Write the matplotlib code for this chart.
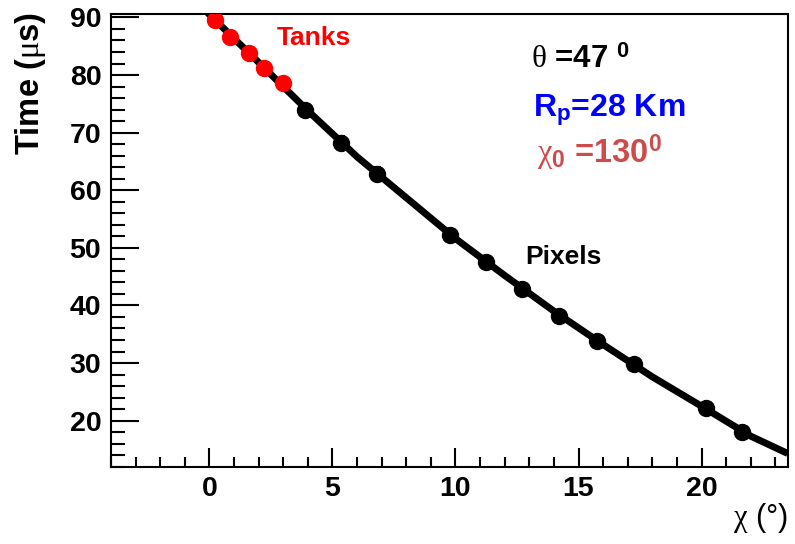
import matplotlib
matplotlib.use('Agg')
import matplotlib.pyplot as plt
from matplotlib.ticker import MultipleLocator

"""Arrival time vs. viewing angle: tank and pixel times with the geometry fit"""

plt.rcParams['font.family'] = ['Liberation Sans', 'DejaVu Sans']
plt.rcParams['font.weight'] = 'bold'
plt.rcParams['mathtext.fontset'] = 'custom'
plt.rcParams['mathtext.rm'] = 'Liberation Sans:weight=bold'
plt.rcParams['mathtext.bf'] = 'Liberation Sans:weight=bold'
plt.rcParams['mathtext.it'] = 'Liberation Serif:weight=normal'
plt.rcParams['mathtext.sf'] = 'Liberation Serif:weight=normal'  # greek letters (symbol font look)

# surface detector tanks
tank_chi = [0.23, 0.85, 1.6, 2.23, 3.0]
tank_t = [89.5, 86.6, 83.8, 81.3, 78.7]

# fluorescence detector pixels
pix_chi = [3.89, 5.35, 6.83, 9.77, 11.25, 12.72, 14.21, 15.74, 17.24, 20.2, 21.65]
pix_t = [74.0, 68.2, 62.75, 52.3, 47.6, 42.8, 38.1, 33.9, 29.8, 22.2, 18.0]
pix_err = [0.8, 1.3, 1.2, 0.6, 0.6, 0.6, 0.6, 0.6, 0.6, 0.6, 0.6]

# fitted curve
fit_chi = [-0.5, 0, 2, 4, 6, 8, 10, 12, 14, 16, 18, 20, 22, 23.5]
fit_t = [92.8, 90.5, 82.2, 73.8, 65.8, 58.7, 51.6, 45.2, 39.0, 33.2, 27.6, 22.5, 17.3, 14.3]

fig = plt.figure(figsize=(7.95, 5.44), dpi=100)
ax = fig.add_axes([0.1396, 0.1421, 0.8512, 0.8322])

ax.plot(fit_chi, fit_t, color='black', lw=5, solid_capstyle='butt', zorder=2)
ax.errorbar(pix_chi, pix_t, yerr=pix_err, fmt='o', color='black', ms=11.5,
            elinewidth=1.5, capsize=3, capthick=1.5, zorder=3)
ax.plot(tank_chi, tank_t, 'o', color='#ff0000', ms=11.5, mec='#ff0000', zorder=4)

ax.set_xlim(-4, 23.5)
ax.set_ylim(12, 90.6)
ax.xaxis.set_major_locator(MultipleLocator(5))
ax.xaxis.set_minor_locator(MultipleLocator(1))
ax.yaxis.set_major_locator(MultipleLocator(10))
ax.yaxis.set_minor_locator(MultipleLocator(2))
ax.tick_params(which='both', direction='in', top=False, right=False, width=1.5,
               labelsize=20.5)
ax.tick_params(axis='y', which='major', length=20, pad=7)
ax.tick_params(axis='y', which='minor', length=10)
ax.tick_params(axis='x', which='major', length=14, pad=7)
ax.tick_params(axis='x', which='minor', length=7)
for lab in ax.get_xticklabels() + ax.get_yticklabels():
    lab.set_fontweight('bold')
for sp in ax.spines.values():
    sp.set_linewidth(1.5)

fig.text(30 / 795, 1 - 12 / 544, 'Time ($\\mathsf{\\mu}$s)', rotation=90, ha='center',
         va='top', fontsize=23.5, fontweight='bold')
fig.text(788 / 795, 1 - 518 / 544, '$\\mathsf{\\chi}$ (°)', ha='right', va='center',
         fontsize=22, fontweight='normal')

ax.text(277 / 795, 1 - 38 / 544, 'Tanks', transform=fig.transFigure, color='#ff0000',
        fontsize=19, fontweight='bold', va='center', ha='left')
ax.text(525 / 795, 1 - 257 / 544, 'Pixels', transform=fig.transFigure, color='black',
        fontsize=19, fontweight='bold', va='center', ha='left')
ax.text(531 / 795, 1 - 68 / 544, '$\\mathsf{\\theta}$ =47 $^{0}$', transform=fig.transFigure,
        color='black', fontsize=22.5, fontweight='bold', va='baseline', ha='left')
ax.text(533 / 795, 1 - 117 / 544, 'R$_{\\mathrm{p}}$=28 Km', transform=fig.transFigure,
        color='#0000ff', fontsize=23, fontweight='bold', va='baseline', ha='left')
ax.text(537 / 795, 1 - 163 / 544, '$\\mathsf{\\chi}_{0}$ =130$^{0}$', transform=fig.transFigure,
        color='#cc4c4c', fontsize=23.5, fontweight='bold', va='baseline', ha='left')

fig.savefig('out.png', dpi=100)
